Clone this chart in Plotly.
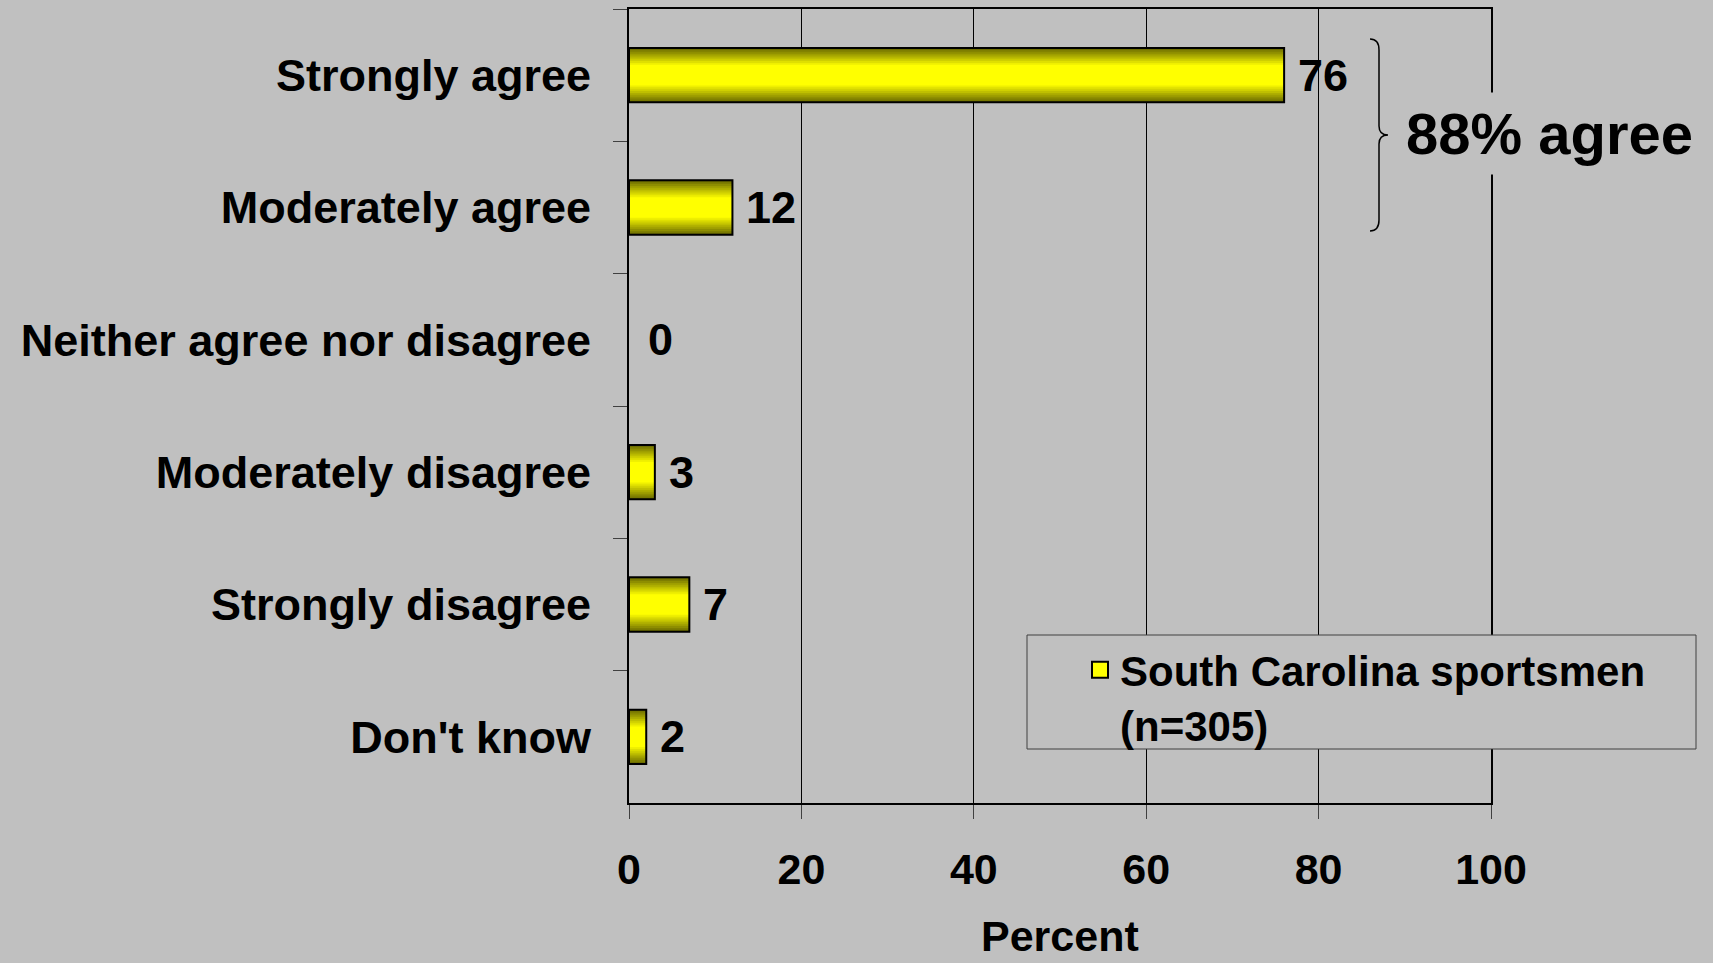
import plotly.graph_objects as go

# ---- data ----
categories = ["Strongly agree", "Moderately agree", "Neither agree nor disagree",
              "Moderately disagree", "Strongly disagree", "Don't know"]
percent = [76, 12, 0, 3, 7, 2]
series_name = "South Carolina sportsmen<br>(n=305)"
x_ticks = [0, 20, 40, 60, 80, 100]
agree_note = "88% agree"
x_title = "Percent"

# ---- style ----
FONT = "Liberation Sans, Arial, sans-serif"
BG = "#C0C0C0"
BAR_W = 0.41
N_BANDS = 10

# plot area in pixels (for layout helpers)
W, H = 1713, 963
ML, MR, MT, MB = 629, 222, 9, 160
PW, PH = W - ML - MR, H - MT - MB


def px_x(px):
    return (px - ML) / PW


def px_y(py):
    return 1 - (py - MT) / PH


fig = go.Figure()

# gradient bars: nested overlays from dark olive (edges) to yellow (centre)
for k in range(N_BANDS):
    t = k / (N_BANDS - 1)
    c = int(round(110 + 145 * t))
    fig.add_trace(go.Bar(
        x=percent, y=categories, orientation="h",
        width=BAR_W * (1 - 0.62 * t),
        marker=dict(color=f"rgb({c},{c},0)", line=dict(width=0)),
        showlegend=False, hoverinfo="skip"))

# outline (zero-length bars are not outlined)
outline_vals = [v if v else None for v in percent]
fig.add_trace(go.Bar(
    x=outline_vals, y=categories, orientation="h", width=BAR_W,
    marker=dict(color="rgba(0,0,0,0)", line=dict(color="black", width=2)),
    showlegend=False, hoverinfo="skip"))

# legend entry
fig.add_trace(go.Scatter(
    x=[None], y=[None], mode="markers", name=series_name,
    marker=dict(symbol="square", size=16, color="#FFFF00",
                line=dict(color="black", width=2))))

# value labels
for cat, v in zip(categories, percent):
    fig.add_annotation(x=v, y=cat, text=str(v), xanchor="left", yanchor="middle",
                       xshift=12 if v else 17, showarrow=False,
                       font=dict(family=FONT, size=45, color="black", weight="bold"))

# 88% agree note
fig.add_annotation(xref="paper", yref="paper", x=px_x(1397), y=px_y(133),
                   text=agree_note, xanchor="left", yanchor="middle", showarrow=False,
                   bgcolor=BG, borderpad=8,
                   font=dict(family=FONT, size=58, color="black", weight="bold"))

# axis title
fig.add_annotation(xref="paper", yref="paper", x=0.5, y=px_y(936),
                   text=x_title, xanchor="center", yanchor="middle", showarrow=False,
                   font=dict(family=FONT, size=43, color="black", weight="bold"))

# brace
pts = dict(xl=px_x(1370), xv=px_x(1379), xt=px_x(1388),
           yt=px_y(39), yt2=px_y(50), ym1=px_y(126), ym=px_y(135), ym2=px_y(144),
           yb2=px_y(220), yb=px_y(231))
brace = (f"M{pts['xl']},{pts['yt']} Q{pts['xv']},{pts['yt']} {pts['xv']},{pts['yt2']} "
         f"L{pts['xv']},{pts['ym1']} Q{pts['xv']},{pts['ym']} {pts['xt']},{pts['ym']} "
         f"Q{pts['xv']},{pts['ym']} {pts['xv']},{pts['ym2']} "
         f"L{pts['xv']},{pts['yb2']} Q{pts['xv']},{pts['yb']} {pts['xl']},{pts['yb']}")
fig.add_shape(type="path", xref="paper", yref="paper", path=brace,
              line=dict(color="black", width=1.5))

# legend box
fig.add_shape(type="rect", xref="paper", yref="paper",
              x0=px_x(1027), x1=px_x(1696), y0=px_y(749), y1=px_y(635),
              fillcolor=BG, line=dict(color="#404040", width=1), layer="above")

fig.update_layout(
    width=W, height=H,
    paper_bgcolor=BG, plot_bgcolor=BG,
    margin=dict(l=ML, r=MR, t=MT, b=MB, autoexpand=False),
    barmode="overlay",
    font=dict(family=FONT, color="black"),
    showlegend=True,
    legend=dict(x=px_x(1080), y=px_y(636), xanchor="left", yanchor="top",
                bgcolor="rgba(0,0,0,0)", borderwidth=0, valign="top",
                font=dict(family=FONT, size=42, color="black", weight="bold")),
)

fig.update_xaxes(
    range=[0, 100], tickvals=x_ticks, ticktext=[str(t) for t in x_ticks],
    showgrid=True, gridcolor="black", gridwidth=1, zeroline=False,
    showline=True, linecolor="black", linewidth=2, mirror=True,
    ticks="outside", ticklen=14, tickcolor="#404040", tickwidth=1,
    tickfont=dict(family=FONT, size=43, color="black", weight="bold"),
    ticklabelstandoff=13, automargin=False,
)

fig.update_yaxes(
    type="category", categoryorder="array", categoryarray=categories,
    autorange="reversed", showgrid=False, zeroline=False,
    showline=True, linecolor="black", linewidth=2, mirror=True,
    ticks="outside", tickson="boundaries", ticklen=14, tickcolor="#404040", tickwidth=1,
    tickfont=dict(family=FONT, size=45, color="black", weight="bold"),
    ticklabelstandoff=27, automargin=False,
)

fig.write_html("out.html", config={"displayModeBar": False},
               post_script="document.body.style.margin='0';document.body.style.background='#C0C0C0';")
